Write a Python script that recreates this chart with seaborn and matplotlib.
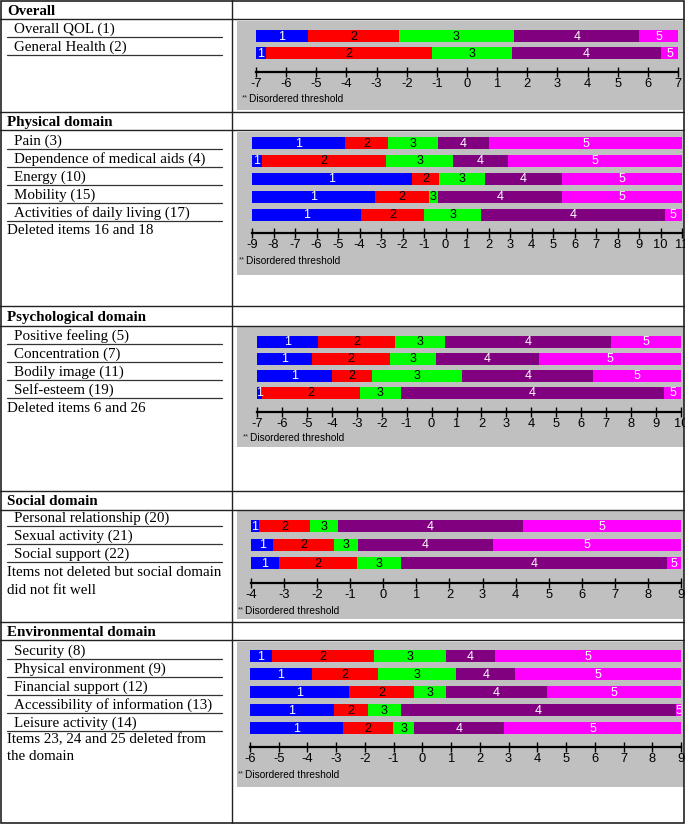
import matplotlib
matplotlib.use("Agg")
import matplotlib.pyplot as plt
import seaborn as sns
from matplotlib.patches import Rectangle
from matplotlib import font_manager

# ------------------------------------------------------------------ data
categories = ["1", "2", "3", "4", "5"]
seg_colors = ["#0000FF", "#FF0000", "#00FF00", "#800080", "#FF00FF"]
seg_text_colors = ["white", "black", "black", "white", "white"]

overall_items = ["Overall QOL (1)", "General Health (2)"]
overall_thresholds = [[-5.28, -2.26, 1.56, 5.72],
                      [-6.67, -1.15, 1.49, 6.45]]
overall_range = (-7, 7)

physical_items = ["Pain (3)", "Dependence of medical aids (4)", "Energy (10)",
                  "Mobility (15)", "Activities of daily living (17)"]
physical_thresholds = [[-4.67, -2.69, -0.37, 2.02],
                       [-8.54, -2.77, 0.36, 2.90],
                       [-1.56, -0.30, 1.84, 5.42],
                       [-3.27, -0.78, -0.37, 5.42],
                       [-3.93, -1.00, 1.67, 10.19]]
physical_range = (-9, 11)

psych_items = ["Positive feeling (5)", "Concentration (7)", "Bodily image (11)",
               "Self-esteem (19)"]
psych_thresholds = [[-4.56, -1.46, 0.54, 7.19],
                    [-4.79, -1.65, 0.16, 4.31],
                    [-4.00, -2.39, 1.23, 6.48],
                    [-6.79, -2.86, -1.24, 9.33]]
psych_range = (-7, 10)

social_items = ["Personal relationship (20)", "Sexual activity (21)",
                "Social support (22)"]
social_thresholds = [[-3.76, -2.22, -1.38, 4.21],
                     [-3.32, -1.49, -0.78, 3.31],
                     [-3.16, -0.81, 0.54, 8.57]]
social_range = (-4, 9)

env_items = ["Security (8)", "Physical environment (9)", "Financial support (12)",
             "Accessibility of information (13)", "Leisure activity (14)"]
env_thresholds = [[-5.25, -1.69, 0.81, 2.51],
                  [-3.85, -1.55, 1.18, 3.24],
                  [-2.54, -0.29, 0.81, 4.35],
                  [-3.08, -1.89, -0.75, 8.84],
                  [-2.78, -1.01, -0.29, 2.84]]
env_range = (-6, 9)

headers = ["Overall", "Physical domain", "Psychological domain",
           "Social domain", "Environmental domain"]
notes = [[], ["Deleted items 16 and 18"], ["Deleted items 6 and 26"],
         ["Items not deleted but social domain", "did not fit well"],
         ["Items 23, 24 and 25 deleted from", "the domain"]]
footnote = "Disordered threshold"

# ------------------------------------------------------------------ layout (pixels)
W, H = 685, 824
sections = [
    dict(items=overall_items, thr=overall_thresholds, rng=overall_range,
         top=0, hdr=10, hline=19, item0=28, note0=None,
         gray=(237, 21, 684, 110), bar0=36, sp=17.0, axis=72, bx=(256, 678), dis=(242, 99)),
    dict(items=physical_items, thr=physical_thresholds, rng=physical_range,
         top=112, hdr=121, hline=130, item0=140, note0=229,
         gray=(237, 132, 684, 275), bar0=143, sp=17.9, axis=233, bx=(252, 682), dis=(239, 261)),
    dict(items=psych_items, thr=psych_thresholds, rng=psych_range,
         top=306, hdr=316, hline=326, item0=335, note0=407,
         gray=(237, 327, 684, 447), bar0=341.5, sp=17.0, axis=412, bx=(257, 681), dis=(243, 438)),
    dict(items=social_items, thr=social_thresholds, rng=social_range,
         top=491, hdr=500, hline=510, item0=517, note0=572,
         gray=(237, 511, 684, 619), bar0=526, sp=18.5, axis=583, bx=(251, 681), dis=(238, 611)),
    dict(items=env_items, thr=env_thresholds, rng=env_range,
         top=622, hdr=631, hline=640, item0=650, note0=739,
         gray=(237, 642, 684, 787), bar0=656, sp=18.1, axis=747, bx=(250, 681), dis=(238, 775)),
]

sns.set_style("white")
plt.rcParams["axes.unicode_minus"] = False

names = {f.name for f in font_manager.fontManager.ttflist}
has_narrow = "Liberation Sans Narrow" in names
narrow = "Liberation Sans Narrow" if has_narrow else "Liberation Sans"
tick_fs = 10.5 if has_narrow else 9.3
seg_fs = 10 if has_narrow else 9.0
serif = ["Liberation Serif", "DejaVu Serif"]
text_fs = 10.8

fig = plt.figure(figsize=(W / 100, H / 100), dpi=100)
base = fig.add_axes([0, 0, 1, 1])
base.set_xlim(0, W)
base.set_ylim(H, 0)
base.axis("off")

line_c = "#222222"
for s_i, s in enumerate(sections):
    gx0, gy0, gx1, gy1 = s["gray"]
    base.add_patch(Rectangle((gx0, gy0), gx1 - gx0, gy1 - gy0, facecolor="#C0C0C0",
                             edgecolor="none", zorder=0))
    # header
    base.text(7, s["hdr"] + 1, headers[s_i], family=serif, fontsize=text_fs,
              fontweight="bold", va="center", ha="left", color="black")
    base.plot([0, W], [s["hline"], s["hline"]], color=line_c, lw=1.0)
    if s["top"] > 0:
        base.plot([0, W], [s["top"], s["top"]], color=line_c, lw=1.0)
    # items with underlines
    for k, it in enumerate(s["items"]):
        yc = s["item0"] + 18 * k
        base.text(14, yc + 1, it, family=serif, fontsize=text_fs, va="center", ha="left",
                  color="black")
        base.plot([7, 222], [yc + 8.5, yc + 8.5], color="#333333", lw=0.9)
    if s["note0"] is not None:
        for j, nt in enumerate(notes[s_i]):
            base.text(7, s["note0"] + 17 * j + 1, nt, family=serif, fontsize=text_fs,
                      va="center", ha="left", color="black")
    # footnote
    dx, dy = s["dis"]
    base.text(dx, dy - 1, "**", family="Liberation Sans", fontsize=5.5, va="center",
              ha="left")
    base.text(dx + 7, dy, footnote, family="Liberation Sans", fontsize=7.3,
              va="center", ha="left", color="black")

# table frame
base.plot([232, 232], [0, H], color=line_c, lw=1.0)
base.add_patch(Rectangle((0.5, 0.5), W - 1.5, H - 1.5, facecolor="none",
                         edgecolor=line_c, lw=1.2, zorder=5))

# ------------------------------------------------------------------ bar panels
for s in sections:
    items = s["items"]
    n = len(items)
    xmin, xmax = s["rng"]
    sp = s["sp"]
    top_px = s["bar0"] - sp / 2
    bot_px = s["axis"]
    x0, x1 = s["bx"]
    ax = fig.add_axes([x0 / W, 1 - bot_px / H, (x1 - x0) / W, (bot_px - top_px) / H])
    ax.set_facecolor("none")
    bar_h = 12.0 / sp
    # cumulative ends for each category: draw from the last (widest) to the first
    ends = [list(t) + [xmax] for t in s["thr"]]
    for c in range(len(categories) - 1, -1, -1):
        widths = [e[c] - xmin for e in ends]
        sns.barplot(x=widths, y=items, orient="h", color=seg_colors[c], saturation=1,
                    errorbar=None, width=bar_h, left=xmin, linewidth=0, ax=ax)
    # segment labels
    for r, e in enumerate(ends):
        starts = [xmin] + e[:-1]
        for c in range(len(categories)):
            xc = (starts[c] + e[c]) / 2
            ax.text(xc, r + 0.03, categories[c], ha="center", va="center", fontsize=seg_fs,
                    family=narrow, color=seg_text_colors[c], clip_on=True)
    ax.set_xlim(xmin, xmax)
    ax.set_ylim(n - 1 + (bot_px - (s["bar0"] + sp * (n - 1))) / sp, -0.5)
    ax.set_yticks([])
    ax.set_ylabel("")
    ax.set_xlabel("")
    for sp_name in ["top", "left", "right"]:
        ax.spines[sp_name].set_visible(False)
    ax.spines["bottom"].set_linewidth(1.6)
    ax.spines["bottom"].set_color("black")
    ax.set_xticks(list(range(xmin, xmax + 1)))
    ax.set_xticklabels([str(v) for v in range(xmin, xmax + 1)], family=narrow,
                       fontsize=tick_fs)
    ax.tick_params(axis="x", direction="inout", length=7, width=1.0, pad=0.5,
                   colors="black", bottom=True)

fig.savefig("out.png", dpi=100)
